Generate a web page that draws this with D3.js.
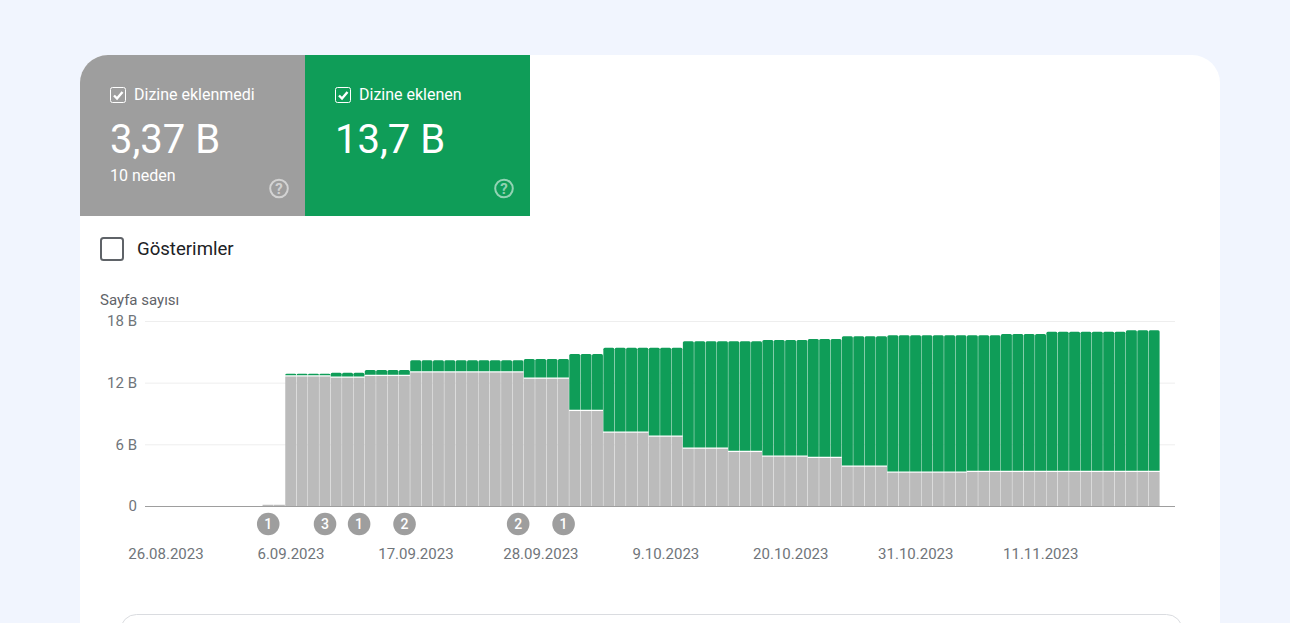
<html>
<head>
<meta charset="utf-8">
<script src="https://d3js.org/d3.v7.min.js"></script>
<style>
html, body { margin: 0; padding: 0; background: #f1f5fe; overflow: hidden; }
svg { display: block; }
text { font-family: Roboto, sans-serif; }
.tick text { font-size: 15px; fill: #70757a; }
</style>
</head>
<body>
<svg></svg>
<script>

// one value per day, 26.08.2023 - 21.11.2023, in billions (B)
var startDate = "2023-08-26";

var notIndexed = [
  0, 0, 0, 0, 0, 0, 0, 0, 0, 0.12, 0.12,
  12.6, 12.6, 12.6, 12.6,
  12.48, 12.48, 12.48,
  12.65, 12.65, 12.65, 12.65,
  12.99, 12.99, 12.99, 12.99, 12.99, 12.99, 12.99, 12.99, 12.99, 12.99,
  12.38, 12.38, 12.38, 12.38,
  9.24, 9.24, 9.24,
  7.13, 7.13, 7.13, 7.13,
  6.74, 6.74, 6.74,
  5.57, 5.57, 5.57, 5.57,
  5.25, 5.25, 5.25,
  4.80, 4.80, 4.80, 4.80,
  4.67, 4.67, 4.67,
  3.82, 3.82, 3.82, 3.82,
  3.24, 3.24, 3.24, 3.24, 3.24, 3.24, 3.24,
  3.31, 3.31, 3.31,
  3.31, 3.31, 3.31, 3.31,
  3.31, 3.31, 3.31, 3.31, 3.31, 3.31, 3.31,
  3.31, 3.31, 3.31
];

var indexed = [
  0, 0, 0, 0, 0, 0, 0, 0, 0, 0, 0,
  0.26, 0.26, 0.26, 0.26,
  0.49, 0.49, 0.49,
  0.58, 0.58, 0.58, 0.58,
  1.19, 1.19, 1.19, 1.19, 1.19, 1.19, 1.19, 1.19, 1.19, 1.19,
  1.92, 1.92, 1.92, 1.92,
  5.55, 5.55, 5.55,
  8.27, 8.27, 8.27, 8.27,
  8.66, 8.66, 8.66,
  10.45, 10.45, 10.45, 10.45,
  10.77, 10.77, 10.77,
  11.35, 11.35, 11.35, 11.35,
  11.58, 11.58, 11.58,
  12.69, 12.69, 12.69, 12.69,
  13.37, 13.37, 13.37, 13.37, 13.37, 13.37, 13.37,
  13.30, 13.30, 13.30,
  13.42, 13.42, 13.42, 13.42,
  13.65, 13.65, 13.65, 13.65, 13.65, 13.65, 13.65,
  13.78, 13.78, 13.78
];

var yTicks = [0, 6, 12, 18];
var dateTicks = ["2023-08-26", "2023-09-06", "2023-09-17", "2023-09-28", "2023-10-09", "2023-10-20", "2023-10-31", "2023-11-11"];

var annotationDates = ["2023-09-04", "2023-09-09", "2023-09-12", "2023-09-16", "2023-09-26", "2023-09-30"];
var annotationCounts = [1, 3, 1, 2, 2, 1];

var tileLabels = ["Dizine eklenmedi", "Dizine eklenen"];
var tileValues = ["3,37 B", "13,7 B"];
var tileNotes = ["10 neden", ""];

var width = 1290;
var height = 623;
var grey = "#9e9e9e";
var green = "#0f9d58";
var barGrey = "#bbbbbb";

var svg = d3.select("svg").attr("width", width).attr("height", height);

var parseDate = d3.timeParse("%Y-%m-%d");
var formatDate = d3.timeFormat("%-d.%m.%Y");

var days = notIndexed.map(function(d, i) {
  return d3.timeDay.offset(parseDate(startDate), i);
});

// main white card and the box that begins under the chart
svg.append("rect")
  .attr("x", 80).attr("y", 55)
  .attr("width", 1140).attr("height", 640)
  .attr("rx", 28)
  .attr("fill", "#fff");

svg.append("rect")
  .attr("x", 120.5).attr("y", 614.5)
  .attr("width", 1062).attr("height", 60)
  .attr("rx", 16)
  .attr("fill", "#fff")
  .attr("stroke", "#dadce0");

drawTile(0, 80, grey);
drawTile(1, 305, green);

function drawTile(i, left, color)
{
  var g = svg.append("g").attr("transform", "translate(" + left + ",55)");

  if (i == 0) {
    g.append("path")
      .attr("d", "M0,161V28A28,28 0 0 1 28,0H225V161Z")
      .attr("fill", color);
  } else {
    g.append("rect").attr("width", 225).attr("height", 161).attr("fill", color);
  }

  // checkbox
  g.append("rect")
    .attr("x", 30.5).attr("y", 32.5)
    .attr("width", 15).attr("height", 15)
    .attr("rx", 2)
    .attr("fill", "none")
    .attr("stroke", "#fff");
  g.append("path")
    .attr("d", "M34,40.5l3,3l5.5,-6.5")
    .attr("fill", "none")
    .attr("stroke", "#fff")
    .attr("stroke-width", 2.4);

  g.append("text")
    .attr("x", 54).attr("y", 45)
    .attr("font-size", 16)
    .attr("fill", "#fff")
    .text(tileLabels[i]);

  g.append("text")
    .attr("x", 30).attr("y", 98)
    .attr("font-size", 40)
    .attr("fill", "#fff")
    .text(tileValues[i]);

  g.append("text")
    .attr("x", 30).attr("y", 126)
    .attr("font-size", 16)
    .attr("fill", "#fff")
    .text(tileNotes[i]);

  // help icon
  g.append("circle")
    .attr("cx", 199).attr("cy", 133.5).attr("r", 8.8)
    .attr("fill", "none")
    .attr("stroke", "rgba(255,255,255,0.55)")
    .attr("stroke-width", 2);
  g.append("text")
    .attr("x", 199).attr("y", 139)
    .attr("text-anchor", "middle")
    .attr("font-size", 15).attr("font-weight", 700)
    .attr("fill", "rgba(255,255,255,0.55)")
    .text("?");
}

// impressions checkbox
svg.append("rect")
  .attr("x", 101).attr("y", 238)
  .attr("width", 22).attr("height", 22)
  .attr("rx", 2.5)
  .attr("fill", "none")
  .attr("stroke", "#5f6368")
  .attr("stroke-width", 2);

svg.append("text")
  .attr("x", 137).attr("y", 255)
  .attr("font-size", 18.6)
  .attr("fill", "#202124")
  .text("Gösterimler");

svg.append("text")
  .attr("x", 100).attr("y", 305)
  .attr("font-size", 15)
  .attr("fill", "#5f6368")
  .text("Sayfa sayısı");

// scales
var x = d3.scaleBand().domain(days).range([160.3, 1160]).padding(0);
var y = d3.scaleLinear().domain([0, 18]).range([506, 321]);

// y axis with gridlines
var yAxis = svg.append("g")
  .attr("transform", "translate(145,0)")
  .call(d3.axisLeft(y).tickValues(yTicks).tickSize(0).tickPadding(8)
    .tickFormat(function(d) { return d == 0 ? "0" : d + " B"; }));
yAxis.select(".domain").remove();

svg.append("g").selectAll("line")
  .data(yTicks.filter(function(d) { return d > 0; }))
  .enter().append("line")
  .attr("x1", 145).attr("x2", 1175)
  .attr("y1", function(d) { return y(d) + 0.5; })
  .attr("y2", function(d) { return y(d) + 0.5; })
  .attr("stroke", "#eeeeee");

var barGap = 0.4;
var stackGap = 1.2;

// grey bars
svg.append("g").selectAll("rect")
  .data(notIndexed)
  .enter().append("rect")
  .attr("x", function(d, i) { return x(days[i]); })
  .attr("y", function(d) { return y(d); })
  .attr("width", x.bandwidth() - barGap)
  .attr("height", function(d) { return y(0) - y(d); })
  .attr("fill", barGrey);

// green bars sit on top of the grey ones, top corners rounded
function greenBar(d, i)
{
  var left = x(days[i]);
  var right = left + x.bandwidth() - barGap;
  var top = y(notIndexed[i] + d);
  var bottom = y(notIndexed[i]) - stackGap;
  var r = Math.min(1.5, bottom - top);
  var p = d3.path();
  p.moveTo(left, bottom);
  p.lineTo(left, top + r);
  p.quadraticCurveTo(left, top, left + r, top);
  p.lineTo(right - r, top);
  p.quadraticCurveTo(right, top, right, top + r);
  p.lineTo(right, bottom);
  p.closePath();
  return d == 0 ? null : p.toString();
}

svg.append("g").selectAll("path")
  .data(indexed)
  .enter().append("path")
  .attr("d", greenBar)
  .attr("fill", green);

// x axis
var xAxis = svg.append("g")
  .attr("transform", "translate(0,506)")
  .call(d3.axisBottom(x)
    .tickValues(dateTicks.map(parseDate))
    .tickSize(0).tickPadding(42)
    .tickFormat(formatDate));
xAxis.select(".domain").remove();

svg.append("line")
  .attr("x1", 145).attr("x2", 1175)
  .attr("y1", 506.5).attr("y2", 506.5)
  .attr("stroke", "#9e9e9e");

// annotation badges
var badges = svg.append("g").selectAll("g")
  .data(annotationCounts)
  .enter().append("g")
  .attr("transform", function(d, i) {
    return "translate(" + (x(parseDate(annotationDates[i])) + x.bandwidth() / 2) + ",524)";
  });

badges.append("circle")
  .attr("r", 11.3)
  .attr("fill", grey);

badges.append("text")
  .attr("y", 5)
  .attr("text-anchor", "middle")
  .attr("font-size", 14)
  .attr("font-weight", 500)
  .attr("fill", "#fff")
  .text(function(d) { return d; });

</script>
</body>
</html>
